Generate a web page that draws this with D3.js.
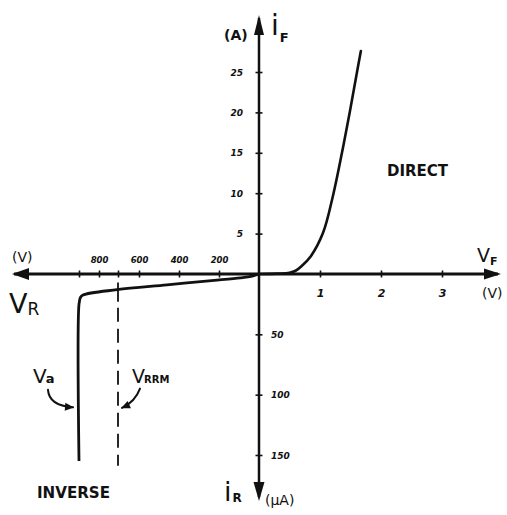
<!DOCTYPE html>
<html>
<head>
<meta charset="utf-8">
<script src="https://cdn.jsdelivr.net/npm/d3@7"></script>
<style>
  html, body { margin: 0; padding: 0; background: #fff; }
  svg { display: block; }
  text { fill: #111; font-family: "DejaVu Sans", sans-serif; }
</style>
</head>
<body>
<svg id="chart" width="507" height="515"></svg>
<script>
// Forward characteristic: voltage (V) vs current (A)
const forwardV = [0, 0.3, 0.5, 0.6, 0.7, 0.84, 1.05, 1.21, 1.36, 1.49, 1.59, 1.67];
const forwardI = [0, 0.05, 0.15, 0.4, 1.0, 2.1, 5.1, 9.6, 15.0, 20.1, 24.3, 27.6];

// Reverse characteristic: voltage (V) vs leakage current (µA)
const reverseV = [0, 40, 80, 210, 460, 710, 880, 893, 900, 900];
const reverseI = [0, 2, 3, 5, 9, 13, 17.4, 19.5, 25, 155];

// Tick values
const forwardVTicks = [1, 2, 3];
const forwardITicks = [5, 10, 15, 20, 25];
const reverseVTicks = [200, 400, 600, 800];
const reverseITicks = [50, 100, 150];

// Breakdown voltage and max repetitive reverse voltage
const Va = 900;
const Vrrm = 705;

const svg = d3.select("#chart");
const ink = "#111";

// Four half-axis scales sharing one origin
const xF = d3.scaleLinear().domain([0, 3]).range([259, 442]);
const xR = d3.scaleLinear().domain([0, 800]).range([259, 99]);
const yF = d3.scaleLinear().domain([0, 25]).range([274, 72]);
const yR = d3.scaleLinear().domain([0, 150]).range([274, 455]);

const x0 = xF(0), y0 = yF(0);

// Main axis lines
svg.append("line").attr("x1", 14).attr("x2", 498).attr("y1", y0).attr("y2", y0)
  .attr("stroke", ink).attr("stroke-width", 3);
svg.append("line").attr("x1", x0).attr("x2", x0).attr("y1", 18).attr("y2", 497)
  .attr("stroke", ink).attr("stroke-width", 2.5);

// Arrow heads
const tri = pts => "M" + pts.map(p => p.join(",")).join("L") + "Z";
svg.append("path").attr("d", tri([[x0, 15], [x0 - 5, 35], [x0 + 5, 35]])).attr("fill", ink);
svg.append("path").attr("d", tri([[x0, 501], [x0 - 5.5, 482], [x0 + 5.5, 482]])).attr("fill", ink);
svg.append("path").attr("d", tri([[12, y0], [29, y0 - 6], [29, y0 + 6]])).attr("fill", ink);
svg.append("path").attr("d", tri([[501, y0], [484, y0 - 5.5], [484, y0 + 5.5]])).attr("fill", ink);

// Styling helper: ticks crossing the axis, no domain path
function styleAxis(g, vertical) {
  g.select(".domain").remove();
  g.selectAll(".tick line")
    .attr("stroke", ink).attr("stroke-width", 1.6)
    .attr(vertical ? "x1" : "y1", -3.5).attr(vertical ? "x2" : "y2", 3.5);
  g.selectAll(".tick text")
    .attr("fill", ink)
    .style("font-size", "9px").style("font-weight", "bold").style("font-style", "italic");
}

// Forward voltage axis (labels below)
const gxF = svg.append("g").attr("transform", `translate(0,${y0})`)
  .call(d3.axisBottom(xF).tickValues(forwardVTicks).tickFormat(d3.format("d")).tickSize(4));
styleAxis(gxF, false);
gxF.selectAll(".tick text").attr("y", 15).attr("dy", "0.71em").style("font-size", "11px");

// Reverse voltage axis (labels above), plus marks at Vrrm and Va
const gxR = svg.append("g").attr("transform", `translate(0,${y0})`)
  .call(d3.axisTop(xR).tickValues(reverseVTicks.concat([Vrrm, Va]))
    .tickFormat(d => reverseVTicks.includes(d) ? d : "").tickSize(4));
styleAxis(gxR, false);
gxR.selectAll(".tick text").attr("y", -11).style("font-size", "8.5px");

// Forward current axis (labels left)
const gyF = svg.append("g").attr("transform", `translate(${x0},0)`)
  .call(d3.axisLeft(yF).tickValues(forwardITicks).tickSize(4));
styleAxis(gyF, true);
gyF.selectAll(".tick text").attr("x", -16).attr("dy", "0.35em");

// Reverse current axis (labels right)
const gyR = svg.append("g").attr("transform", `translate(${x0},0)`)
  .call(d3.axisRight(yR).tickValues(reverseITicks).tickSize(4));
styleAxis(gyR, true);
gyR.selectAll(".tick text").attr("x", 12).attr("dy", "0.35em");

// Forward curve
const fwdLine = d3.line().x(d => xF(d[0])).y(d => yF(d[1])).curve(d3.curveCatmullRom.alpha(0.5));
svg.append("path").datum(d3.zip(forwardV, forwardI)).attr("d", fwdLine)
  .attr("fill", "none").attr("stroke", ink).attr("stroke-width", 2.6)
  .attr("stroke-linecap", "round");

// Reverse curve with breakdown
const revLine = d3.line().x(d => xR(d[0])).y(d => yR(d[1])).curve(d3.curveCatmullRom.alpha(0.5));
svg.append("path").datum(d3.zip(reverseV, reverseI)).attr("d", revLine)
  .attr("fill", "none").attr("stroke", ink).attr("stroke-width", 2.8)
  .attr("stroke-linejoin", "round");

// Vrrm marker: short solid stroke across the curve, then dashed down
svg.append("line").attr("x1", xR(Vrrm)).attr("x2", xR(Vrrm))
  .attr("y1", yR(7)).attr("y2", yR(23))
  .attr("stroke", ink).attr("stroke-width", 1.8);
svg.append("line").attr("x1", xR(Vrrm)).attr("x2", xR(Vrrm))
  .attr("y1", yR(28)).attr("y2", yR(159))
  .attr("stroke", ink).attr("stroke-width", 1.8).attr("stroke-dasharray", "14,7");

// Arrow annotations
function curvedArrow(p0, c, p1) {
  svg.append("path").attr("d", `M${p0[0]},${p0[1]} Q${c[0]},${c[1]} ${p1[0]},${p1[1]}`)
    .attr("fill", "none").attr("stroke", ink).attr("stroke-width", 2).attr("stroke-linecap", "round");
  const ang = Math.atan2(p1[1] - c[1], p1[0] - c[0]);
  const L = 8, W = 4;
  const bx = p1[0] - L * Math.cos(ang), by = p1[1] - L * Math.sin(ang);
  const nx = -Math.sin(ang) * W, ny = Math.cos(ang) * W;
  svg.append("path").attr("d", tri([[p1[0] + Math.cos(ang), p1[1] + Math.sin(ang)], [bx + nx, by + ny], [bx - nx, by - ny]]))
    .attr("fill", ink);
}
curvedArrow([xR(Va) - 31, yR(96)], [xR(Va) - 30, yR(109)], [xR(Va) - 6, yR(110.5)]);
curvedArrow([xR(Vrrm) + 22, yR(95)], [xR(Vrrm) + 17, yR(106)], [xR(Vrrm) + 4, yR(111)]);

// Text labels
function label(x, y, parts) {
  const t = svg.append("text").attr("x", x).attr("y", y);
  parts.forEach(p => {
    const s = t.append("tspan").text(p.t).style("font-size", p.size + "px");
    if (p.dy) s.attr("dy", p.dy);
    if (p.dx) s.attr("dx", p.dx);
    if (p.weight) s.style("font-weight", p.weight);
  });
  return t;
}

label(224, 40, [{ t: "(A)", size: 14, weight: "bold" }]);
label(271, 35, [{ t: "i", size: 28 }, { t: "F", size: 13, dy: 7, dx: 1, weight: "bold" }]);
label(477, 262, [{ t: "V", size: 19 }, { t: "F", size: 11, dy: 3, weight: "bold" }]);
label(482, 298, [{ t: "(V)", size: 14 }]);
label(12, 262, [{ t: "(V)", size: 14 }]);
label(9, 313, [{ t: "V", size: 27 }, { t: "R", size: 17, dy: 2 }]);
label(224, 501, [{ t: "i", size: 27 }, { t: "R", size: 12, dy: 1, dx: 1, weight: "bold" }]);
label(265, 505, [{ t: "(µA)", size: 14 }]);

label(xR(Va) - 46, yR(90), [{ t: "V", size: 20 }, { t: "a", size: 13, dx: -1, weight: "bold" }]);
label(xR(Vrrm) + 14, yR(90), [{ t: "V", size: 19 }, { t: "RRM", size: 10, dx: -1, weight: "bold" }]);

svg.append("text").attr("x", 387).attr("y", 176).text("DIRECT")
  .style("font-size", "15px").style("font-weight", "bold")
  .attr("textLength", 61).attr("lengthAdjust", "spacingAndGlyphs");
svg.append("text").attr("x", 37).attr("y", 498).text("INVERSE")
  .style("font-size", "16px").style("font-weight", "bold")
  .attr("textLength", 73).attr("lengthAdjust", "spacingAndGlyphs");
</script>
</body>
</html>
